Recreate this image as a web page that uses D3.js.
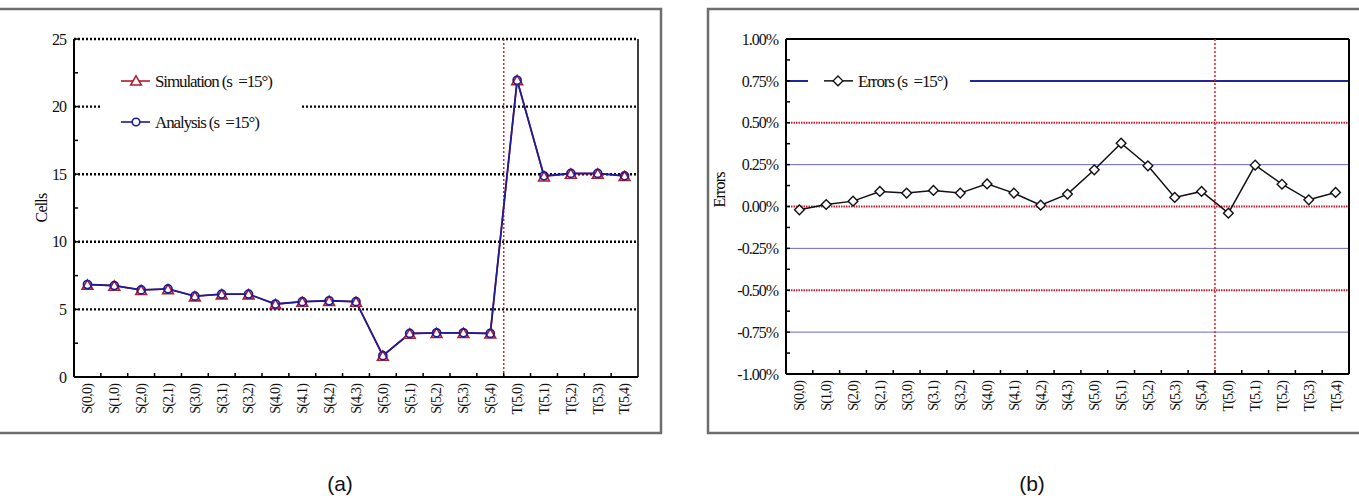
<!DOCTYPE html>
<html><head><meta charset="utf-8">
<script src="https://cdn.jsdelivr.net/npm/d3@7"></script>
<style>
body{margin:0;background:#fff;}
svg{display:block;}
text{white-space:pre;}
</style>
</head><body>
<svg id="c" width="1359" height="498"></svg>
<script>
const categories = ["S(0,0)","S(1,0)","S(2,0)","S(2,1)","S(3,0)","S(3,1)","S(3,2)","S(4,0)","S(4,1)","S(4,2)","S(4,3)","S(5,0)","S(5,1)","S(5,2)","S(5,3)","S(5,4)","T(5,0)","T(5,1)","T(5,2)","T(5,3)","T(5,4)"];
const analysis = [6.84,6.76,6.44,6.52,5.98,6.13,6.13,5.40,5.57,5.64,5.57,1.58,3.22,3.27,3.27,3.22,21.95,14.88,15.06,15.06,14.88];
const simulation = [6.84,6.76,6.44,6.51,5.97,6.12,6.12,5.39,5.57,5.64,5.57,1.58,3.21,3.26,3.27,3.22,21.96,14.84,15.04,15.05,14.87];
const errors = [-0.02,0.012,0.032,0.09,0.08,0.096,0.08,0.135,0.08,0.008,0.074,0.219,0.378,0.243,0.054,0.09,-0.04,0.247,0.133,0.04,0.084];
const cellTicks = [0,5,10,15,20,25];
const cellMinor = [2.5,7.5,12.5,17.5,22.5];
const errorTicks = [-1,-0.75,-0.5,-0.25,0,0.25,0.5,0.75,1];
const errorMinor = [-0.875,-0.625,-0.375,-0.125,0.125,0.375,0.625,0.875];
const boundaryIndex = 16;

const svg = d3.select("#c");
const serif = "'Liberation Serif','DejaVu Serif',serif";

// frames
svg.append("rect").attr("x",-2).attr("y",9).attr("width",663).attr("height",424)
  .attr("fill","none").attr("stroke","#6e6e6e").attr("stroke-width",2.5);
svg.append("rect").attr("x",708).attr("y",9).attr("width",660).attr("height",424)
  .attr("fill","none").attr("stroke","#6e6e6e").attr("stroke-width",2.5);

function xAxis(g, x, yPos){
  const ax = d3.axisBottom(x).tickSize(0).tickPadding(0);
  const a = g.append("g").attr("transform",`translate(0,${yPos})`).call(ax);
  a.select(".domain").remove();
  a.selectAll(".tick text")
    .attr("transform","rotate(-90)")
    .attr("x",-7).attr("y",0).attr("dy","0.35em")
    .attr("text-anchor","end")
    .style("font-family",serif).style("font-size","14px").style("letter-spacing","-0.8px").attr("fill","#111");
  const b = d3.range(1, categories.length).map(i => x(categories[i]));
  g.selectAll(null).data(b).enter().append("line")
    .attr("x1",d=>d).attr("x2",d=>d).attr("y1",yPos).attr("y2",yPos-4)
    .attr("stroke","#000").attr("stroke-width",1.5);
}

function yAxis(g, y, xPos, ticks, minor, fmt){
  const ax = d3.axisLeft(y).tickValues(ticks).tickSize(0).tickPadding(8).tickFormat(fmt);
  const a = g.append("g").attr("transform",`translate(${xPos},0)`).call(ax);
  a.select(".domain").remove();
  a.selectAll(".tick text").style("font-family",serif).style("font-size","16px")
    .style("letter-spacing","-1px").attr("fill","#111");
  g.selectAll(null).data(minor.concat(ticks)).enter().append("line")
    .attr("x1",xPos).attr("x2",xPos+4).attr("y1",d=>y(d)).attr("y2",d=>y(d))
    .attr("stroke","#000").attr("stroke-width",1.5);
}

// ---------- Chart (a) ----------
{
  const x0=74, x1=638, yT=39, yB=377;
  const x = d3.scaleBand().domain(categories).range([x0,x1]);
  const y = d3.scaleLinear().domain([0,25]).range([yB,yT]);
  const cx = d => x(d)+x.bandwidth()/2;
  const g = svg.append("g");

  g.selectAll(null).data(cellTicks.filter(d=>d>0)).enter().append("line")
    .attr("x1",x0).attr("x2",x1).attr("y1",d=>y(d)).attr("y2",d=>y(d))
    .attr("stroke","#000").attr("stroke-width",2.4).attr("stroke-dasharray","2,2");
  g.append("line").attr("x1",x1).attr("x2",x1).attr("y1",yT).attr("y2",yB).attr("stroke","#000").attr("stroke-width",1.5);
  const bx = x(categories[boundaryIndex]);
  g.append("line").attr("x1",bx).attr("x2",bx).attr("y1",yT).attr("y2",yB)
    .attr("stroke","#e02020").attr("stroke-width",1.5).attr("stroke-dasharray","2,2");

  g.append("rect").attr("x",100).attr("y",58).attr("width",200).attr("height",85).attr("fill","#fff");

  g.append("line").attr("x1",x0).attr("x2",x0).attr("y1",yT).attr("y2",yB).attr("stroke","#000").attr("stroke-width",2);
  g.append("line").attr("x1",x0).attr("x2",x1).attr("y1",yB).attr("y2",yB).attr("stroke","#000").attr("stroke-width",2);
  yAxis(g, y, x0, cellTicks, cellMinor, d3.format("d"));
  xAxis(g, x, yB);

  g.append("text").attr("transform",`translate(41,${(yT+yB)/2}) rotate(-90)`)
    .attr("text-anchor","middle").attr("dy","0.35em")
    .style("font-family",serif).style("font-size","16px").style("letter-spacing","-0.8px").text("Cells");

  const line = d3.line().x((d,i)=>cx(categories[i])).y(d=>y(d));
  const redC = "#b01c2e", blueC = "#1c1c96";
  g.append("path").datum(simulation).attr("d",line).attr("fill","none").attr("stroke",redC).attr("stroke-width",1.6);
  g.append("path").datum(analysis).attr("d",line).attr("fill","none").attr("stroke",blueC).attr("stroke-width",1.8);
  const tri = d3.symbol().type(d3.symbolTriangle).size(50);
  g.selectAll(null).data(simulation).enter().append("path")
    .attr("d",tri).attr("transform",(d,i)=>`translate(${cx(categories[i])},${y(d)+1.5})`)
    .attr("fill","#fff").attr("stroke",redC).attr("stroke-width",1.6);
  g.selectAll(null).data(analysis).enter().append("circle")
    .attr("cx",(d,i)=>cx(categories[i])).attr("cy",d=>y(d)).attr("r",4)
    .attr("fill","none").attr("stroke",blueC).attr("stroke-width",1.7);

  const lg = [{label:"Simulation (s  =15°)", c:redC, t:"tri", y:81},{label:"Analysis (s  =15°)", c:blueC, t:"circ", y:122}];
  lg.forEach(e=>{
    g.append("line").attr("x1",121).attr("x2",150).attr("y1",e.y).attr("y2",e.y).attr("stroke",e.c).attr("stroke-width",1.6);
    if(e.t==="tri") g.append("path").attr("d",tri).attr("transform",`translate(136,${e.y+1})`).attr("fill","#fff").attr("stroke",e.c).attr("stroke-width",1.5);
    else g.append("circle").attr("cx",136).attr("cy",e.y).attr("r",3.8).attr("fill","#fff").attr("stroke",e.c).attr("stroke-width",1.6);
    g.append("text").attr("x",155).attr("y",e.y).attr("dy","0.35em")
      .style("font-family",serif).style("font-size","17px").style("letter-spacing","-1.1px").attr("fill","#111").text(e.label);
  });
}

// ---------- Chart (b) ----------
{
  const x0=786, x1=1349, yT=39, yB=374;
  const x = d3.scaleBand().domain(categories).range([x0,x1]);
  const y = d3.scaleLinear().domain([-1,1]).range([yB,yT]);
  const cx = d => x(d)+x.bandwidth()/2;
  const g = svg.append("g");

  const reds = [-0.5,0,0.5], blues=[-0.75,-0.25,0.25];
  g.selectAll(null).data(blues).enter().append("line")
    .attr("x1",x0).attr("x2",x1).attr("y1",d=>y(d)).attr("y2",d=>y(d))
    .attr("stroke","#6a6ad0").attr("stroke-width",1);
  g.append("line").attr("x1",x0).attr("x2",x1).attr("y1",y(0.75)).attr("y2",y(0.75))
    .attr("stroke","#25259a").attr("stroke-width",2);
  g.selectAll(null).data(reds).enter().append("line")
    .attr("x1",x0).attr("x2",x1).attr("y1",d=>y(d)).attr("y2",d=>y(d))
    .attr("stroke","#d01830").attr("stroke-width",2).attr("stroke-dasharray","1.5,1");
  g.append("line").attr("x1",x0).attr("x2",x1).attr("y1",yT).attr("y2",yT).attr("stroke","#000").attr("stroke-width",2);
  g.append("line").attr("x1",x1).attr("x2",x1).attr("y1",yT).attr("y2",yB).attr("stroke","#000").attr("stroke-width",2);
  const bx = x(categories[boundaryIndex]);
  g.append("line").attr("x1",bx).attr("x2",bx).attr("y1",yT).attr("y2",yB)
    .attr("stroke","#e02020").attr("stroke-width",1.5).attr("stroke-dasharray","2,2");

  g.append("rect").attr("x",808).attr("y",64).attr("width",162).attr("height",36).attr("fill","#fff");

  g.append("line").attr("x1",x0).attr("x2",x0).attr("y1",yT).attr("y2",yB).attr("stroke","#000").attr("stroke-width",2);
  g.append("line").attr("x1",x0).attr("x2",x1).attr("y1",yB).attr("y2",yB).attr("stroke","#000").attr("stroke-width",2);
  yAxis(g, y, x0, errorTicks, errorMinor, d => d.toFixed(2).replace("-0.00","0.00")+"%");
  xAxis(g, x, yB);

  g.append("text").attr("transform",`translate(719,190) rotate(-90)`)
    .attr("text-anchor","middle").attr("dy","0.35em")
    .style("font-family",serif).style("font-size","16px").style("letter-spacing","-0.8px").text("Errors");

  const line = d3.line().x((d,i)=>cx(categories[i])).y(d=>y(d));
  g.append("path").datum(errors).attr("d",line).attr("fill","none").attr("stroke","#111").attr("stroke-width",1.5);
  const dia = d3.symbol().type(d3.symbolDiamond2).size(60);
  g.selectAll(null).data(errors).enter().append("path")
    .attr("d",dia).attr("transform",(d,i)=>`translate(${cx(categories[i])},${y(d)})`)
    .attr("fill","#fff").attr("stroke","#111").attr("stroke-width",1.4);

  const ly = y(0.75);
  g.append("line").attr("x1",824).attr("x2",853).attr("y1",ly).attr("y2",ly).attr("stroke","#111").attr("stroke-width",1.5);
  g.append("path").attr("d",dia).attr("transform",`translate(838,${ly})`).attr("fill","#fff").attr("stroke","#111").attr("stroke-width",1.4);
  g.append("text").attr("x",858).attr("y",ly).attr("dy","0.35em")
    .style("font-family",serif).style("font-size","17px").style("letter-spacing","-1.1px").attr("fill","#111").text("Errors (s  =15°)");
}

svg.append("text").attr("x",340).attr("y",491).attr("text-anchor","middle")
  .style("font-family","'Liberation Sans',Arial,sans-serif").style("font-size","21px").attr("fill","#111").text("(a)");
svg.append("text").attr("x",1032).attr("y",491).attr("text-anchor","middle")
  .style("font-family","'Liberation Sans',Arial,sans-serif").style("font-size","21px").attr("fill","#111").text("(b)");
</script>
</body></html>
